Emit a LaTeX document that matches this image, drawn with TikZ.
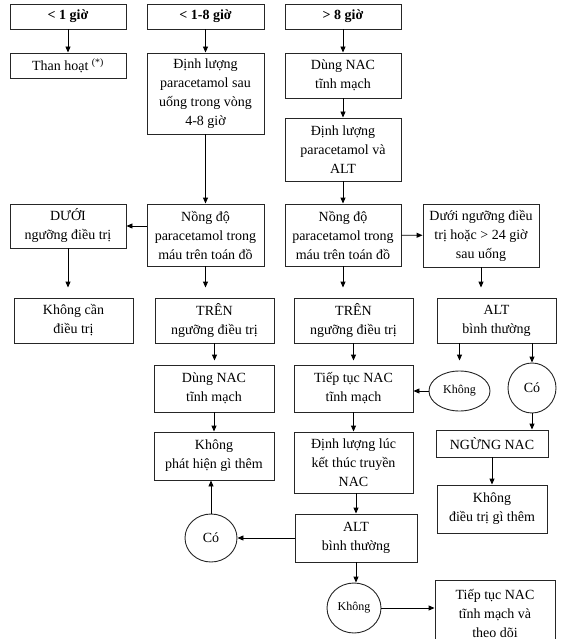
\documentclass[tikz,border=0pt]{standalone}
\usepackage{fontspec}
\setmainfont{Liberation Serif}
\usetikzlibrary{arrows.meta,shapes.geometric}

\begin{document}
\begin{tikzpicture}[x=1pt,y=-1pt,
						every node/.style={font=\fontsize{14}{19}\selectfont},
						box/.style={draw=black!85, line width=0.9pt, rectangle, align=center, inner sep=2pt, minimum width=116pt},
						hd/.style={box, font=\fontsize{14}{19}\selectfont\bfseries, minimum height=25pt},
						oval/.style={draw=black!85, line width=0.9pt, ellipse, inner sep=0pt},
						small/.style={font=\fontsize{12}{14}\selectfont},
						arr/.style={-{Triangle[length=6pt,width=5pt]}, line width=0.9pt},
					]
					\useasboundingbox (0,0) rectangle (567,639);

					% tiêu đề
					\node[hd] (h1) at (68,16.5) {< 1 giờ};
					\node[hd, minimum width=117pt] (h2) at (205.5,16.5) {< 1-8 giờ};
					\node[hd] (h3) at (343,16.5) {> 8 giờ};

					% cột 1
					\node[box, minimum height=25pt] (than) at (68,65.5) {Than hoạt \textsuperscript{(*)}};
					\node[box, minimum height=44pt] (duoi) at (68,226) {DƯỚI\\ngưỡng điều trị};
					\node[box, minimum width=119pt, minimum height=45pt] (khongcan) at (73.5,320.5) {Không cần\\điều trị};

					% cột 2
					\node[box, minimum width=117pt, minimum height=81pt] (dl1) at (205.5,93.5) {Định lượng\\paracetamol sau\\uống trong vòng\\4-8 giờ};
					\node[box, minimum width=117pt, minimum height=62pt] (nd1) at (205.5,235) {Nồng độ\\paracetamol trong\\máu trên toán đồ};
					\node[box, minimum width=119pt, minimum height=45pt] (tren1) at (214.5,320.5) {TRÊN\\ngưỡng điều trị};
					\node[box, minimum width=120pt, minimum height=47pt] (nac2) at (214,388.5) {Dùng NAC\\tĩnh mạch};
					\node[box, minimum width=120pt, minimum height=48pt] (khongpt) at (214,456) {Không\\phát hiện gì thêm};
					\node[oval, minimum width=52pt, minimum height=48pt] (co2) at (211,538) {Có};

					% cột 3
					\node[box, minimum height=45pt] (nac1) at (343,75.5) {Dùng NAC\\tĩnh mạch};
					\node[box, minimum height=63pt] (dl2) at (343,149.5) {Định lượng\\paracetamol và\\ALT};
					\node[box, minimum height=62pt] (nd2) at (343,235) {Nồng độ\\paracetamol trong\\máu trên toán đồ};
					\node[box, minimum width=119pt, minimum height=45pt] (tren2) at (353.5,320.5) {TRÊN\\ngưỡng điều trị};
					\node[box, minimum width=119pt, minimum height=47pt] (tiep) at (353.5,388.5) {Tiếp tục NAC\\tĩnh mạch};
					\node[box, minimum width=119pt, minimum height=61pt] (dlkt) at (353.5,462.5) {Định lượng lúc\\kết thúc truyền\\NAC};
					\node[box, minimum width=122pt, minimum height=48pt] (alt2) at (356,538) {ALT\\bình thường};
					\node[oval, small, minimum width=54pt, minimum height=50pt] (khong2) at (354,608) {Không};

					% cột 4
					\node[box, minimum height=63pt] (duoi2) at (481,235.5) {Dưới ngưỡng điều\\trị hoặc > 24 giờ\\sau uống};
					\node[box, minimum width=119pt, minimum height=45pt] (alt1) at (496.5,320.5) {ALT\\bình thường};
					\node[oval, small, minimum width=61pt, minimum height=40pt] (khong1) at (459.5,391) {Không};
					\node[oval, minimum width=48pt, minimum height=50pt] (co1) at (532,388) {Có};
					\node[box, minimum width=112pt, minimum height=27pt] (ngung) at (492,443.5) {NGỪNG NAC};
					\node[box, minimum width=110pt, minimum height=48pt] (khongdt) at (492,509) {Không\\điều trị gì thêm};
					\node[box, minimum width=120pt, minimum height=66pt] (tiep2) at (495,613) {Tiếp tục NAC\\tĩnh mạch và\\theo dõi};

					% mũi tên
					\draw[arr] (h1) -- (than);
					\draw[arr] (h2) -- (dl1);
					\draw[arr] (h3) -- (nac1);
					\draw[arr] (nac1) -- (dl2);
					\draw[arr] (dl1) -- (nd1);
					\draw[arr] (dl2) -- (nd2);
					\draw[arr] (nd1.west |- duoi.east) -- (duoi.east);
					\draw[arr] (nd2) -- (duoi2);
					\draw[arr, shorten >=10pt] (duoi.south) -- (duoi.south |- khongcan.north);
					\draw[arr, shorten >=10pt] (nd1.south) -- (nd1.south |- tren1.north);
					\draw[arr, shorten >=10pt] (nd2.south) -- (nd2.south |- tren2.north);
					\draw[arr, shorten >=10pt] (duoi2.south) -- (duoi2.south |- alt1.north);
					\draw[arr, shorten >=4pt] (tren1.south) -- (tren1.south |- nac2.north);
					\draw[arr, shorten >=4pt] (tren2.south) -- (tren2.south |- tiep.north);
					\draw[arr] (nac2) -- (khongpt);
					\draw[arr] (tiep) -- (dlkt);
					\draw[arr] (alt2.north |- dlkt.south) -- (alt2.north);
					\draw[arr, shorten >=10pt] (alt1.south -| khong1.north) -- (khong1.north);
					\draw[arr] (alt1.south -| co1.north) -- (co1.north);
					\draw[arr] (khong1.west) -- (khong1.west -| tiep.east);
					\draw[arr] (co1.south) -- (co1.south |- ngung.north);
					\draw[arr] (ngung) -- (khongdt);
					\draw[arr] (alt2.west) -- (alt2.west -| co2.east);
					\draw[arr] (co2.north) -- (co2.north |- khongpt.south);
					\draw[arr] (alt2.south) -- (alt2.south |- khong2.north);
					\draw[arr] (khong2.east) -- (khong2.east -| tiep2.west);

				\end{tikzpicture}
\end{document}
